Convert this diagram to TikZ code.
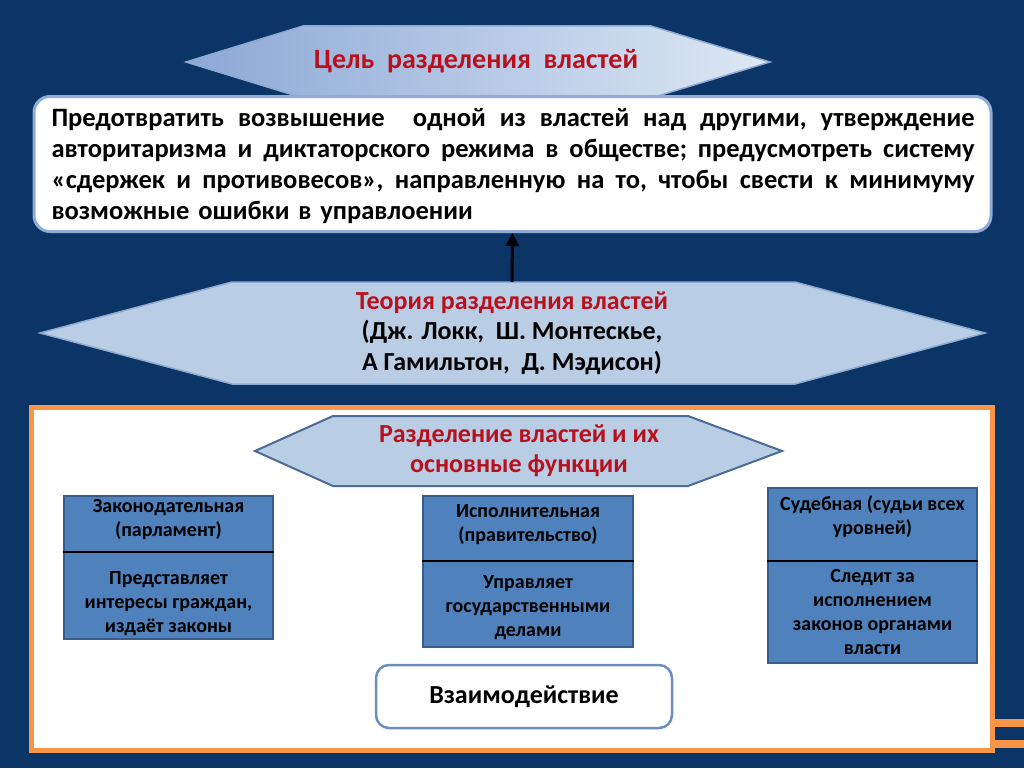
\documentclass[tikz,border=0pt]{standalone}
\usepackage{fontspec}
\setmainfont{Carlito}
\usetikzlibrary{arrows.meta}
\definecolor{bgnavy}{RGB}{11,52,103}
\definecolor{titlered}{RGB}{185,16,30}
\definecolor{hexfill}{RGB}{185,205,229}
\definecolor{hexedge}{RGB}{142,170,208}
\definecolor{hexdark}{RGB}{74,108,150}
\definecolor{gradleft}{RGB}{140,168,214}
\definecolor{gradright}{RGB}{222,232,244}
\definecolor{goaledge}{RGB}{142,172,214}
\definecolor{branchfill}{RGB}{79,129,189}
\definecolor{branchedge}{RGB}{56,93,138}
\definecolor{frameorange}{RGB}{247,150,70}
\definecolor{interedge}{RGB}{108,142,191}
\tikzset{
  branch/.style={draw=branchedge, fill=branchfill, line width=2pt, inner sep=0pt},
  divider/.style={draw=black, line width=2.5pt},
  btext/.style={font=\bfseries\fontsize{20}{24}\selectfont, align=center, text=black},
  hextext/.style={font=\bfseries\fontsize{26}{30.5}\selectfont, align=center},
  uparrow/.style={draw=black, line width=3pt, -{Triangle[length=13pt,width=13pt]}}
}
\newcommand{\jline}[1]{\leavevmode\hbox to 923pt{#1}}
\begin{document}
\begin{tikzpicture}[x=1pt,y=-1pt]
\useasboundingbox (0,0) rectangle (1024,768);
\fill[bgnavy] (0,0) rectangle (1024,768);

% top hexagon
\draw[left color=gradleft, right color=gradright, draw=hexedge, line width=1.5pt]
  (186,62) -- (303,26) -- (651,26) -- (770,62) -- (651,98) -- (303,98) -- cycle;
\node[font=\bfseries\fontsize{28}{30}\selectfont, text=titlered] (goaltitle) at (476,61)
  {Цель\ \ разделения\ \ властей};

% goal box
\node[draw=goaledge, line width=3pt, fill=white, rounded corners=16pt,
      minimum width=957pt, minimum height=135pt, inner sep=0pt] (goal) at (512.5,164) {};
\node[font=\bfseries\fontsize{26.5}{31}\selectfont, text width=923pt, align=left, inner sep=0pt] (goaltext) at (513,166)
  {\jline{Предотвратить\hfill возвышение\hfill\hfill одной\hfill из\hfill властей\hfill над\hfill другими,\hfill утверждение}\\
   \jline{авторитаризма\hfill и\hfill диктаторского\hfill режима\hfill в\hfill обществе;\hfill предусмотреть\hfill систему}\\
   \jline{«сдержек\hfill и\hfill противовесов»,\hfill направленную\hfill на\hfill то,\hfill чтобы\hfill свести\hfill к\hfill минимуму}\\
   возможные ошибки в управлоении};

% theory hexagon
\draw[fill=hexfill, draw=hexedge, line width=1.5pt]
  (40,333) -- (232,282) -- (795,282) -- (985,333) -- (795,384) -- (232,384) -- cycle;
\coordinate (thtop) at (512,282);
\node[hextext] (theory) at (512,333)
  {\textcolor{titlered}{Теория\ разделения\ властей}\\(Дж. Локк,\ \ Ш. Монтескье,\\А Гамильтон,\ \ Д. Мэдисон)};
\draw[uparrow] (thtop) -- (goal.south);

% orange frame
\draw[draw=frameorange, line width=5pt, fill=white] (31,407) rectangle (992,750.5);
\fill[frameorange] (994,719) rectangle (1024,727);
\fill[frameorange] (994,740) rectangle (1024,748);

% functions hexagon
\draw[fill=hexfill, draw=hexdark, line width=2pt]
  (255,451) -- (333,416) -- (688,416) -- (782,451) -- (688,486) -- (333,486) -- cycle;
\node[hextext, font=\bfseries\fontsize{26}{30}\selectfont, text=titlered] (functions) at (519,451)
  {Разделение властей и их\\основные функции};

% branches
\node[branch, minimum width=209pt, minimum height=143pt] (leg) at (168.5,567.5) {};
\draw[divider] (leg.west |- 0,552) -- (leg.east |- 0,552);
\node[btext] (legtop) at (168.5,520) {Законодательная\\(парламент)};
\node[btext] (legbot) at (168.5,604) {Представляет\\интересы граждан,\\издаёт законы};

\node[branch, minimum width=210pt, minimum height=151pt] (exe) at (528,571.5) {};
\draw[divider] (exe.west |- 0,561) -- (exe.east |- 0,561);
\node[btext] (exetop) at (528,525) {Исполнительная\\(правительство)};
\node[btext] (exebot) at (528,608) {Управляет\\государственными\\делами};

\node[branch, minimum width=209pt, minimum height=175pt] (jud) at (872.5,575.5) {};
\draw[divider] (jud.west |- 0,561) -- (jud.east |- 0,561);
\node[btext] (judtop) at (872.5,517) {Судебная (судьи всех\\уровней)};
\node[btext] (judbot) at (872.5,612) {Следит за\\исполнением\\законов органами\\власти};

% interaction
\node[draw=interedge, line width=2.5pt, fill=white, rounded corners=13pt,
      minimum width=296pt, minimum height=63pt, inner sep=0pt,
      font=\bfseries\fontsize{26}{28}\selectfont] (inter) at (524,696.5) {Взаимодействие};
\end{tikzpicture}
\end{document}
